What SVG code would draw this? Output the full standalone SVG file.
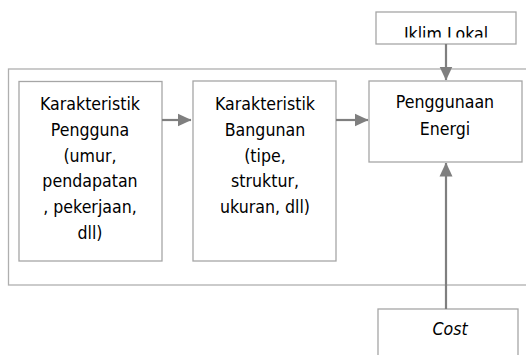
<svg xmlns="http://www.w3.org/2000/svg" width="526" height="355" viewBox="0 0 526 355">
<style>
.box{fill:#fff;stroke:#a6a6a6;stroke-width:1.3}
.outer{fill:none;stroke:#afafaf;stroke-width:1.3}
.lbl{font-family:"DejaVu Sans Condensed","DejaVu Sans",sans-serif;font-stretch:condensed;font-size:17.6px;fill:#000;text-anchor:middle}
.conn{stroke:#7f7f7f;stroke-width:2.2;fill:none}
</style>
<defs>
<marker id="ah" markerUnits="userSpaceOnUse" markerWidth="14" markerHeight="14" viewBox="0 0 14 14" refX="13.5" refY="7" orient="auto">
<path d="M0,0.5 L14,7 L0,13.5 Z" fill="#7f7f7f"/>
</marker>
<clipPath id="clipIklim"><rect x="376" y="12" width="140" height="25.5"/></clipPath>
</defs>
<rect class="outer" x="8.5" y="69" width="530" height="216"/>
<g id="iklim">
<rect class="box" x="376" y="12" width="140" height="32"/>
<text class="lbl" x="446" y="40" clip-path="url(#clipIklim)">Iklim Lokal</text>
</g>
<g id="pengguna">
<rect class="box" x="19" y="81.5" width="143" height="179.5"/>
<text class="lbl" x="90" y="110">Karakteristik</text>
<text class="lbl" x="90" y="136">Pengguna</text>
<text class="lbl" x="90" y="161.5">(umur,</text>
<text class="lbl" x="90" y="187">pendapatan</text>
<text class="lbl" x="90" y="213">, pekerjaan,</text>
<text class="lbl" x="90" y="238.5">dll)</text>
</g>
<g id="bangunan">
<rect class="box" x="193" y="81" width="143" height="180"/>
<text class="lbl" x="265" y="110">Karakteristik</text>
<text class="lbl" x="265" y="136">Bangunan</text>
<text class="lbl" x="265" y="161.5">(tipe,</text>
<text class="lbl" x="265" y="187">struktur,</text>
<text class="lbl" x="265" y="213">ukuran, dll)</text>
</g>
<g id="energi">
<rect class="box" x="369" y="81" width="153" height="81"/>
<text class="lbl" x="445" y="108">Penggunaan</text>
<text class="lbl" x="445" y="135">Energi</text>
</g>
<g id="cost">
<rect class="box" x="378" y="309" width="140" height="60"/>
<text class="lbl" x="450" y="335" font-style="italic">Cost</text>
</g>
<g id="connectors">
<line class="conn" x1="162" y1="120" x2="191" y2="120" marker-end="url(#ah)"/>
<line class="conn" x1="336" y1="120" x2="368" y2="120" marker-end="url(#ah)"/>
<line class="conn" x1="446" y1="44" x2="446" y2="80" marker-end="url(#ah)"/>
<line class="conn" x1="446" y1="309" x2="446" y2="163" marker-end="url(#ah)"/>
</g>
</svg>
